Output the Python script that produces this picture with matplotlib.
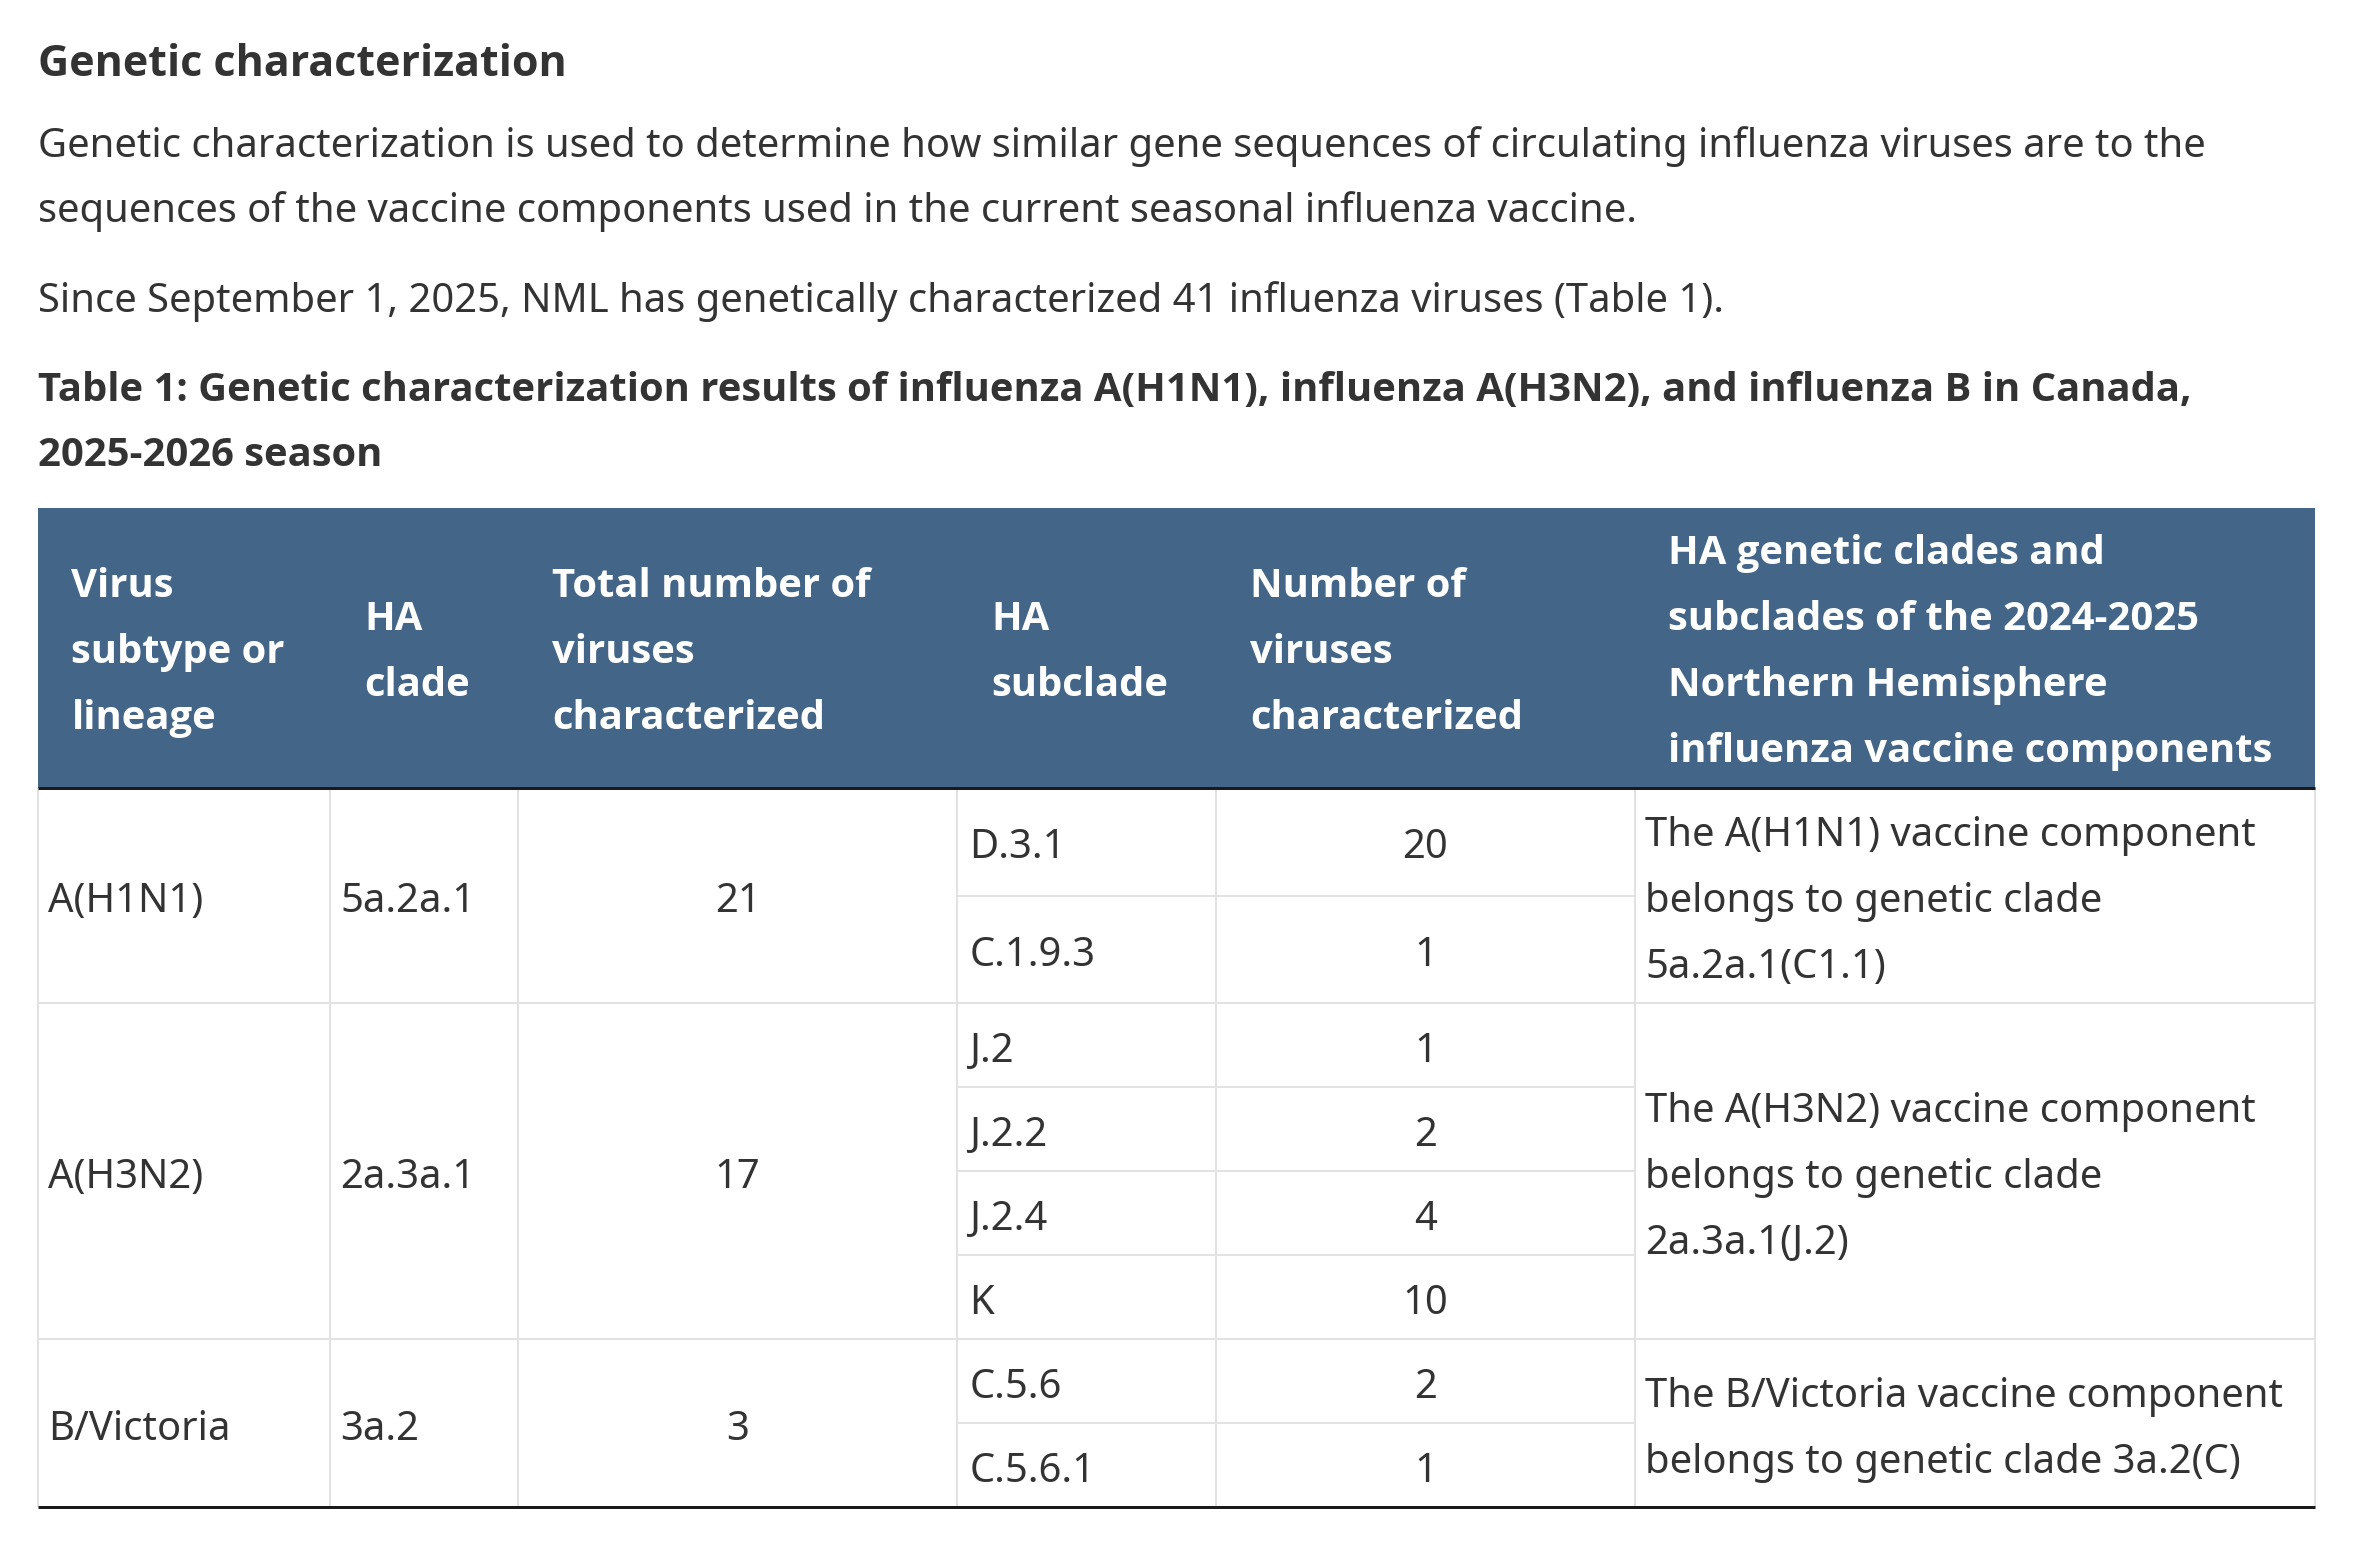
import matplotlib.pyplot as plt
from matplotlib.patches import Rectangle

# --- dados da tabela ---
subtypes = ['A(H1N1)', 'A(H3N2)', 'B/Victoria']
clades = ['5a.2a.1', '2a.3a.1', '3a.2']
totals = [21, 17, 3]
subclades = [['D.3.1', 'C.1.9.3'],
             ['J.2', 'J.2.2', 'J.2.4', 'K'],
             ['C.5.6', 'C.5.6.1']]
sub_counts = [[20, 1],
              [1, 2, 4, 10],
              [2, 1]]
vaccine_notes = ['The A(H1N1) vaccine component\nbelongs to genetic clade\n5a.2a.1(C1.1)',
                 'The A(H3N2) vaccine component\nbelongs to genetic clade\n2a.3a.1(J.2)',
                 'The B/Victoria vaccine component\nbelongs to genetic clade 3a.2(C)']
headers = ['Virus\nsubtype or\nlineage',
           'HA\nclade',
           'Total number of\nviruses\ncharacterized',
           'HA\nsubclade',
           'Number of\nviruses\ncharacterized',
           'HA genetic clades and\nsubclades of the 2024-2025\nNorthern Hemisphere\ninfluenza vaccine components']

heading = 'Genetic characterization'
paragraph = ['Genetic characterization is used to determine how similar gene sequences of circulating influenza viruses are to the',
             'sequences of the vaccine components used in the current seasonal influenza vaccine.']
since_line = 'Since September 1, 2025, NML has genetically characterized 41 influenza viruses (Table 1).'
caption = ['Table 1: Genetic characterization results of influenza A(H1N1), influenza A(H3N2), and influenza B in Canada,',
           '2025-2026 season']

# --- layout (unidades de tela: 1568 de largura) ---
W, H = 1568, 1024.5
PT = 2360 / W * 0.72          # tamanho em pontos por unidade de tela
FS = 26.55                    # fonte do corpo
LH = 43.8                     # altura de linha
TXT = '#333333'
HEAD_BG = '#436587'
GRID = '#e2e2e2'

col_x = [25, 219.3, 344.2, 636, 808, 1086, 1538]
head_top, head_bot = 337.5, 523.6
sub_h = 55.8
cell_dy = 1.5                 # pequeno ajuste vertical do texto nas células

plt.rcParams['font.family'] = ['Noto Sans', 'DejaVu Sans']

fig = plt.figure(figsize=(23.6, 15.42), dpi=100)
ax = fig.add_axes([0, 0, 1, 1])
ax.set_xlim(0, W)
ax.set_ylim(H, 0)
ax.axis('off')


def txt(x, y, s, size=FS, bold=False, color=TXT, ha='left'):
    # y = centro da altura de maiúsculas
    kw = dict(family=['Open Sans', 'Noto Sans'], fontweight='bold') if bold else {}
    ax.text(x, y + 0.36 * size, s, fontsize=size * PT, ha=ha, va='baseline',
            color=color, **kw)


def hline(x0, x1, y, color=GRID, lw=2):
    ax.plot([x0, x1], [y, y], color=color, lw=lw * 0.72, solid_capstyle='butt')


def vline(x, y0, y1, color=GRID, lw=2):
    ax.plot([x, x], [y0, y1], color=color, lw=lw * 0.72, solid_capstyle='butt')


# textos acima da tabela
txt(25, 40, heading, size=28.6, bold=True)
txt(25, 95, paragraph[0])
txt(25, 138, paragraph[1])
txt(25, 198, since_line)
txt(25, 257, caption[0], bold=True)
txt(25, 300, caption[1], bold=True)

# cabeçalho
ax.add_patch(Rectangle((col_x[0], head_top), col_x[-1] - col_x[0], head_bot - head_top,
                       facecolor=HEAD_BG, edgecolor='none'))
head_mid = (head_top + head_bot) / 2 + 0.5
for i, h in enumerate(headers):
    lines = h.split('\n')
    y0 = head_mid - (len(lines) - 1) * LH / 2
    for k, line in enumerate(lines):
        txt(col_x[i] + 22.5, y0 + k * LH, line, bold=True, color='white')

# corpo
y = head_bot
for g in range(len(subtypes)):
    note_lines = vaccine_notes[g].split('\n')
    n_sub = len(subclades[g])
    gh = max(n_sub * sub_h, len(note_lines) * LH + 11.5)
    sh = gh / n_sub
    mid = y + gh / 2 + cell_dy

    txt(col_x[0] + 7, mid, subtypes[g])
    txt(col_x[1] + 7, mid, clades[g])
    txt((col_x[2] + col_x[3]) / 2, mid, str(totals[g]), ha='center')
    for k, (sc, cnt) in enumerate(zip(subclades[g], sub_counts[g])):
        cy = y + k * sh + sh / 2 + cell_dy
        txt(col_x[3] + 8, cy, sc)
        txt((col_x[4] + col_x[5]) / 2, cy, str(cnt), ha='center')
        if k > 0:
            hline(col_x[3], col_x[5], y + k * sh)
    ny0 = mid - (len(note_lines) - 1) * LH / 2
    for k, line in enumerate(note_lines):
        txt(col_x[5] + 7, ny0 + k * LH, line)

    for x in col_x:
        vline(x, y, y + gh)
    y += gh
    if g < len(subtypes) - 1:
        hline(col_x[0], col_x[-1], y)

# linhas escuras
hline(col_x[0], col_x[-1], head_bot, color='#1a1a1a', lw=3)
hline(col_x[0], col_x[-1], y, color='#1a1a1a', lw=3)

fig.savefig('out.png', dpi=100, facecolor='white')
